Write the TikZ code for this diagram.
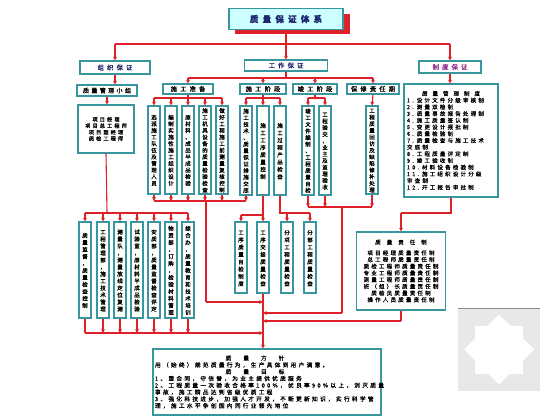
\documentclass[tikz,border=0pt]{standalone}
\usepackage{fontspec}
\usetikzlibrary{arrows.meta}
\newfontfamily\cjk[LetterSpace=40,FakeBold=0.8]{Noto Sans CJK SC}
\newfontfamily\cjkw[LetterSpace=50,FakeBold=0.8]{Noto Sans CJK SC}
\definecolor{lnc}{RGB}{224,32,40}
\definecolor{bdc}{RGB}{58,150,158}
\definecolor{ttlf}{RGB}{204,255,255}
\definecolor{navy}{RGB}{30,40,110}
\definecolor{pur}{RGB}{150,40,140}
\makeatletter
\newdimen\vc@p
\def\vc@end{\vc@end}
\newcommand\vt[2][6.6pt]{\vc@p=#1\relax\vbox{\offinterlineskip\vc@loop#2\vc@end}}
\def\vc@loop#1{\ifx#1\vc@end\else\hbox to 9pt{\hss\vrule width0pt height\vc@p depth0pt\raise0.9pt\hbox{#1}\hss}\expandafter\vc@loop\fi}
\makeatother
\tikzset{
 bx/.style={draw=bdc, line width=1.1pt, fill=white, inner sep=0pt, text=black},
 vb/.style={bx, minimum width=12pt, font=\cjk\fontsize{5.5}{6.6}\selectfont},
 hb/.style={bx, font=\cjkw\fontsize{6.3}{7}\selectfont},
 tb/.style={bx, font=\cjk\fontsize{5.5}{6.7}\selectfont},
 ln/.style={draw=lnc, line width=1.1pt},
 ar/.style={ln, -{Triangle[length=3.6pt,width=3.6pt]}},
}
\begin{document}
\begin{tikzpicture}[x=1pt,y=-1pt]
\useasboundingbox (0,0) rectangle (560,420);
\fill[white] (0,0) rectangle (560,420);
% watermark
\fill[black!9] (458,308) rectangle (540,391);
\draw[black!45, line width=1.2pt] (458,308.5) -- (540,308.5);
\fill[white] (499,349.5) +(-24,-24) rectangle +(24,24);
\fill[white] (499,349.5) +(0,-35) -- +(35,0) -- +(0,35) -- +(-35,0) -- cycle;
% title with red shadow
\fill[lnc] (235,14) rectangle (350,34);
\node[draw=bdc, line width=1.1pt, fill=ttlf, minimum width=114pt, minimum height=21pt, inner sep=0pt,
  font=\cjkw\bfseries\fontsize{8.5}{9}\selectfont, text=navy] (title) at (286,19) {质量保证体系};
% level 1
\node[hb, text=navy, minimum width=70pt, minimum height=13pt] (zz) at (115,67.5) {组织保证};
\node[hb, text=navy, minimum width=83pt, minimum height=11pt] (gz) at (286,65.5) {工作保证};
\node[hb, text=pur, minimum width=62pt, minimum height=12pt] (zd) at (450,67) {制度保证};
\coordinate (t1) at (115,44);
\coordinate (t2) at (450,44);
% organisation
\node[bx, font=\cjk\fontsize{6}{7}\selectfont, minimum width=60pt, minimum height=11pt] (xz) at (107,90.5) {质量管理小组};
\node[bx, font=\cjk\fontsize{5.2}{6.4}\selectfont, minimum width=56pt, minimum height=48pt, align=center] (zg) at (106,129) {项目经理\\项目总工程师\\项目副经理\\质检工程师};
% level 2
\node[hb, minimum width=50pt, minimum height=10pt] (sz) at (188,89) {施工准备};
\node[hb, minimum width=46pt, minimum height=10pt] (sj) at (263,89) {施工阶段};
\node[hb, minimum width=44pt, minimum height=10pt] (jg) at (315,89) {竣工阶段};
\node[hb, minimum width=52pt, minimum height=10pt] (bxq) at (373,89) {保修责任期};
\coordinate (w1) at (188,78);
\coordinate (w2) at (373,78);
% preparation children
\node[vb, minimum height=88pt] (P1) at (154,150) {\vt{选派施工队伍及管理人员}};
\node[vb, minimum height=88pt] (P2) at (171,150) {\vt{编制实施性施工组织设计}};
\node[vb, minimum height=88pt] (P3) at (188,150) {\vt{原材料、成品半成品检验}};
\node[vb, minimum height=88pt] (P4) at (205,150) {\vt{施工机具设备的质量检验检查}};
\node[vb, minimum height=88pt] (P5) at (222,150) {\vt{做好工程施工前测量复核控制}};
\node[vb, minimum height=89pt] (S1) at (246,150.5) {\vt{施工技术、质量保证措施交底}};
\node[vb, minimum height=89pt] (S2) at (263,150.5) {\vt[7.3pt]{施工工序质量控制}};
\node[vb, minimum height=89pt] (S3) at (280,150.5) {\vt[7.3pt]{施工过程产品检查}};
\node[vb, minimum height=89pt] (J1) at (308,150.5) {\vt{竣工文件编制、工程质量自检}};
\node[vb, minimum height=89pt] (J2) at (325,150.5) {\vt{工程验交，业主及监理验收}};
\node[vb, minimum height=88pt] (B1) at (372,150) {\vt{工程质量回访及缺陷修补处理}};
% middle group
\node[vb, minimum height=71pt] (M1) at (241,257.5) {\vt[7.3pt]{工序质量自检制度}};
\node[vb, minimum height=71pt] (M2) at (263,257.5) {\vt[7.3pt]{工序交接质量检查}};
\node[vb, minimum height=71pt] (M3) at (287,257.5) {\vt[7.3pt]{分项工程质量检查}};
\node[vb, minimum height=71pt] (M4) at (310,257.5) {\vt[7.3pt]{分部工程质量检查}};
% lower row
\node[vb, minimum height=96pt] (L1) at (85,270) {\vt[7pt]{质量监督，质量检查控制}};
\node[vb, minimum height=96pt] (L2) at (103,270) {\vt[7pt]{工程管理部，施工技术管理}};
\node[vb, minimum height=96pt] (L3) at (120,270) {\vt[7pt]{测量队，测量放线定位复测}};
\node[vb, minimum height=96pt] (L4) at (137,270) {\vt[7pt]{试验室，原材料半成品检验}};
\node[vb, minimum height=96pt] (L5) at (154,270) {\vt[7pt]{安质部，质量监督检查评定}};
\node[vb, minimum height=96pt] (L6) at (171,270) {\vt[7pt]{物资部，订购，检验材料管理}};
\node[vb, minimum height=96pt] (L7) at (188,270) {\vt[7pt]{综合办，质量教育和技术培训}};
% system box
\node[tb, minimum width=94pt, minimum height=113pt, align=left, text width=88pt] (zdb) at (451,140.5)
{\makebox[88pt]{质\hspace{5pt}量\hspace{5pt}管\hspace{5pt}理\hspace{5pt}制\hspace{5pt}度}\\
1.\hspace{3pt}设计文件分级审核制\\
2.\hspace{3pt}测量双检制\\
3.\hspace{3pt}质量事故报告处理制\\
4.\hspace{3pt}施工质量签认制\\
5.\hspace{3pt}变更设计报批制\\
6.\hspace{3pt}质量检验制\\
7.\hspace{3pt}质量检查与施工技术\\
交底制\\
8.\hspace{3pt}工程质量评定制\\
9.\hspace{3pt}竣工验收制\\
10.\hspace{3pt}材料设备检验制\\
11.\hspace{3pt}施工组织设计分级\\
审查制\\
12.\hspace{3pt}开工报告审批制};
% responsibility box
\node[tb, minimum width=89pt, minimum height=78pt, align=center] (zr) at (401,271)
{质\hspace{6pt}量\hspace{6pt}责\hspace{6pt}任\hspace{6pt}制\\[4pt]
项目经理质量责任制\\总工程师质量责任制\\质检工程师质量责任制\\专业工程师质量责任制\\
测量工程师质量责任制\\班（组）长质量责任制\\质检员质量责任制\\操作人员质量责任制};
% bottom box
\node[bx, font=\cjk\fontsize{5.7}{6.8}\selectfont, minimum width=228pt, minimum height=66pt, align=left, text width=224pt] (BB) at (267,382)
{\makebox[200pt]{质\hspace{12pt}量\hspace{12pt}方\hspace{12pt}针}\\
用（始终）规范质量行为，生产具体到用户满意。\\
\makebox[200pt]{质\hspace{12pt}量\hspace{12pt}目\hspace{12pt}标}\\
1、重合同，守信誉，为业主提供优质服务\\
2、工程质量一次验收合格率100\%，优良率90\%以上，消灭质量\\
事故，施工精品达到省级优质工程\\
3、强化科技进步，加强人才开发，不断更新知识，实行科学管\\
理，施工水平争创国内同行业领先地位};
% ---------- connectors ----------
\draw[ar] (title.south) -- (gz.north);
\draw[ln] (t1) -- (t2);
\draw[ar] (t1) -- (zz.north);
\draw[ar] (t2) -- (zd.north);
\draw[ar] (zz.south) -- (zz.south |- xz.north);
\draw[ar] (xz.south) -- (xz.south |- zg.north);
\draw[ln] (gz.south) -- (gz.south |- w1);
\draw[ln] (w1) -- (w2);
\foreach \n in {sz,sj,jg,bxq} \draw[ar] (\n.north |- w1) -- (\n.north);
% preparation bus
\coordinate (pb) at (188,98);
\draw[ln] (sz.south) -- (pb);
\draw[ln] (P1.north |- pb) -- (P5.north |- pb);
\foreach \n in {P1,P2,P3,P4,P5} \draw[ar] (\n.north |- pb) -- (\n.north);
\coordinate (sb) at (263,98);
\draw[ln] (sj.south) -- (sb);
\draw[ln] (S1.north |- sb) -- (S3.north |- sb);
\foreach \n in {S1,S2,S3} \draw[ar] (\n.north |- sb) -- (\n.north);
\coordinate (jb0) at (315,98);
\draw[ln] (jg.south) -- (jb0);
\draw[ln] (J1.north |- jb0) -- (J2.north |- jb0);
\foreach \n in {J1,J2} \draw[ar] (\n.north |- jb0) -- (\n.north);
\draw[ar] (bxq.south) -- (B1.north);
\draw[ar] (zd.south) -- (zd.south |- zdb.north);
% bottoms of preparation
\coordinate (pbb) at (206,201);
\draw[ln] (P1.south |- pbb) -- (S1.south |- pbb);
\foreach \n in {P1,P2,P3,P4,P5,S1} \draw[ar] (\n.south) -- (\n.south |- pbb);
\coordinate (k1) at (206,302);
\draw[ln] (pbb) -- (k1);
\draw[ar] (k1) -- (k1 -| M2.south);
% construction stage to middle group
\draw[ar] (S2.south) -- (M2.north);
\coordinate (m2b) at (263,215);
\draw[ln] (m2b) -- (m2b -| M1.north);
\draw[ar] (m2b -| M1.north) -- (M1.north);
\coordinate (m3b) at (280,213);
\draw[ln] (S3.south) -- (m3b) -- (m3b -| M4.north);
\foreach \n in {M3,M4} \draw[ar] (\n.north |- m3b) -- (\n.north);
% completion & warranty bottoms
\coordinate (jb) at (342,207);
\draw[ln] (J1.south |- jb) -- (B1.south |- jb);
\foreach \n in {J1,J2,B1} \draw[ar] (\n.south) -- (\n.south |- jb);
\coordinate (jk) at (342,313);
\draw[ln] (jb) -- (jk);
\draw[ar] (jk) -- (jk -| M2.south);
% trunk
\draw[ar] (M2.south) -- (M2.south |- BB.north);
% organisation to lower row
\coordinate (lb) at (107,213);
\draw[ln] (zg.south) -- (lb);
\draw[ln] (L1.north |- lb) -- (L7.north |- lb);
\foreach \n in {L1,L2,L3,L4,L5,L6,L7} \draw[ar] (\n.north |- lb) -- (\n.north);
\coordinate (lbb) at (85,333);
\draw[ln] (L1.south) -- (lbb);
\foreach \n in {L2,L3,L4,L5,L6,L7} \draw[ar] (\n.south) -- (\n.south |- lbb);
\draw[ar] (lbb) -- (lbb -| M2.south);
% system to responsibility
\coordinate (z1) at (451,213);
\coordinate (z2) at (401,213);
\draw[ln] (zdb.south) -- (z1) -- (z2);
\draw[ar] (z2) -- (zr.north);
\coordinate (r1) at (401,321);
\draw[ln] (zr.south) -- (r1);
\draw[ar] (r1) -- (r1 -| M2.south);
\end{tikzpicture}
\end{document}
